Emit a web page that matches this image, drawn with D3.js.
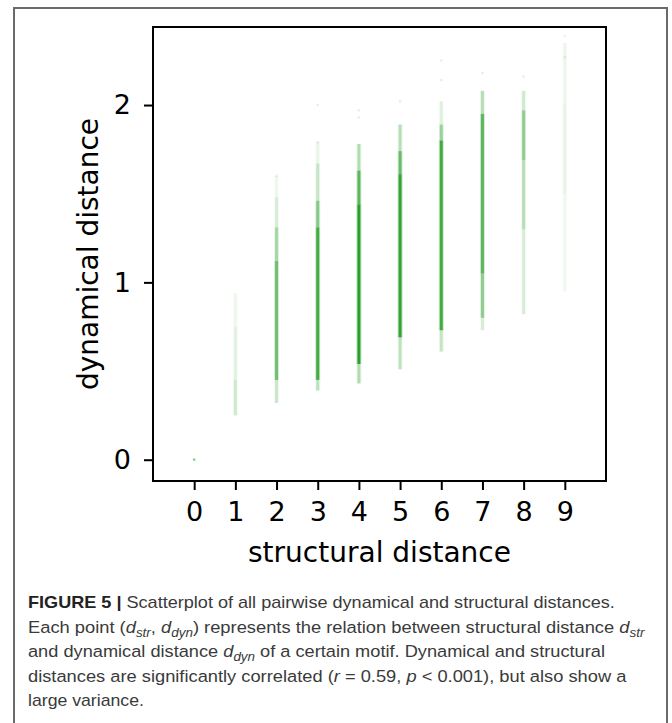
<!DOCTYPE html>
<html>
<head>
<meta charset="utf-8">
<script src="https://cdn.jsdelivr.net/npm/d3@7"></script>
<style>
  body { margin: 0; background: #fff; }
  svg { display: block; }
</style>
</head>
<body>
<div id="scatter"></div>
<script>
// Chart data
var xTicks = [0, 1, 2, 3, 4, 5, 6, 7, 8, 9];
var yTicks = [0, 1, 2];

// density bands along each column: [structural distance, low, high, opacity]
var columnBands = [
  [1, 0.25, 0.45, 0.18], [1, 0.45, 0.75, 0.10], [1, 0.75, 0.94, 0.06],
  [2, 0.32, 0.45, 0.20], [2, 0.45, 1.12, 0.60], [2, 1.12, 1.31, 0.35], [2, 1.31, 1.48, 0.15], [2, 1.48, 1.60, 0.06],
  [3, 0.39, 0.45, 0.25], [3, 0.45, 1.31, 0.85], [3, 1.31, 1.46, 0.50], [3, 1.46, 1.67, 0.22], [3, 1.67, 1.79, 0.08],
  [4, 0.43, 0.54, 0.30], [4, 0.54, 1.44, 1.00], [4, 1.44, 1.63, 0.70], [4, 1.63, 1.78, 0.30],
  [5, 0.51, 0.69, 0.25], [5, 0.69, 1.61, 0.95], [5, 1.61, 1.74, 0.65], [5, 1.74, 1.89, 0.28],
  [6, 0.61, 0.73, 0.22], [6, 0.73, 1.80, 0.85], [6, 1.80, 1.89, 0.40], [6, 1.89, 2.02, 0.12],
  [7, 0.73, 0.80, 0.15], [7, 0.80, 1.05, 0.45], [7, 1.05, 1.95, 0.70], [7, 1.95, 2.08, 0.28],
  [8, 0.82, 1.30, 0.15], [8, 1.30, 1.69, 0.28], [8, 1.69, 1.97, 0.45], [8, 1.97, 2.08, 0.18],
  [9, 0.95, 1.50, 0.06], [9, 1.50, 2.00, 0.09], [9, 2.00, 2.35, 0.07]
];

// isolated points: [structural distance, dynamical distance, opacity]
var loosePoints = [
  [0, 0.00, 0.5],
  [2, 1.60, 0.12], [3, 2.00, 0.12], [3, 1.79, 0.12],
  [4, 1.97, 0.12], [4, 1.93, 0.12], [5, 2.02, 0.12],
  [6, 2.25, 0.12], [6, 2.14, 0.12], [7, 2.18, 0.12],
  [8, 2.16, 0.12], [9, 2.39, 0.1], [9, 2.27, 0.1]
];

var xLabel = "structural distance";
var yLabel = "dynamical distance";

// caption lines, as [text, style] pieces
var captionLines = [
  [["FIGURE 5 | ", "b"], ["Scatterplot of all pairwise dynamical and structural distances.", "n"]],
  [["Each point (", "n"], ["d", "i"], ["str", "sub"], [", ", "n"], ["d", "i"], ["dyn", "sub"],
   [") represents the relation between structural distance ", "n"], ["d", "i"], ["str", "sub"]],
  [["and dynamical distance ", "n"], ["d", "i"], ["dyn", "sub"], [" of a certain motif. Dynamical and structural", "n"]],
  [["distances are significantly correlated (", "n"], ["r", "i"], [" = 0.59, ", "n"], ["p", "i"],
   [" < 0.001), but also show a", "n"]],
  [["large variance.", "n"]]
];

// Define SVG area dimensions
var svgWidth = 672;
var svgHeight = 723;

var plot = { left: 153, right: 606, top: 27, bottom: 481 };

var svg = d3.select("#scatter")
  .append("svg")
  .attr("width", svgWidth)
  .attr("height", svgHeight);

svg.append("rect")
  .attr("width", svgWidth)
  .attr("height", svgHeight)
  .attr("fill", "#fff");

// outer figure frame (open at the bottom of the crop)
svg.append("rect")
  .attr("x", 14)
  .attr("y", 8)
  .attr("width", 653)
  .attr("height", 760)
  .attr("fill", "none")
  .attr("stroke", "#6a6a6a")
  .attr("stroke-width", 2);

// Scales
var xScale = d3.scaleLinear().domain([-1, 10]).range([plot.left, plot.right]);
var yScale = d3.scaleLinear().domain([-0.12, 2.44]).range([plot.bottom, plot.top]);

var green = "#2ca02c";

// Columns of points: wide soft halo plus a narrow core
var bandGroup = svg.append("g");
bandGroup.selectAll("rect.halo")
  .data(columnBands)
  .enter()
  .append("rect")
  .attr("class", "halo")
  .attr("x", d => xScale(d[0]) - 2.5)
  .attr("y", d => yScale(d[2]))
  .attr("width", 5)
  .attr("height", d => yScale(d[1]) - yScale(d[2]))
  .attr("fill", green)
  .attr("fill-opacity", d => d[3] * 0.3);

bandGroup.selectAll("rect.core")
  .data(columnBands)
  .enter()
  .append("rect")
  .attr("class", "core")
  .attr("x", d => xScale(d[0]) - 1.5)
  .attr("y", d => yScale(d[2]))
  .attr("width", 3)
  .attr("height", d => yScale(d[1]) - yScale(d[2]))
  .attr("fill", green)
  .attr("fill-opacity", d => d[3]);

svg.append("g").selectAll("circle")
  .data(loosePoints)
  .enter()
  .append("circle")
  .attr("cx", d => xScale(d[0]))
  .attr("cy", d => yScale(d[1]))
  .attr("r", 1.4)
  .attr("fill", green)
  .attr("fill-opacity", d => d[2]);

// Axes
var bottomAxis = d3.axisBottom(xScale).tickValues(xTicks).tickSize(9).tickPadding(12)
  .tickFormat(d3.format("d"));
var leftAxis = d3.axisLeft(yScale).tickValues(yTicks).tickSize(9).tickPadding(13)
  .tickFormat(d3.format("d"));

var xAxisG = svg.append("g")
  .attr("transform", `translate(0, ${plot.bottom})`)
  .call(bottomAxis);

var yAxisG = svg.append("g")
  .attr("transform", `translate(${plot.left}, 0)`)
  .call(leftAxis);

[xAxisG, yAxisG].forEach(function(g) {
  g.select(".domain").remove();
  g.selectAll(".tick line").attr("stroke", "#000").attr("stroke-width", 2);
  g.selectAll(".tick text")
    .attr("fill", "#000")
    .style("font-family", "DejaVu Sans")
    .style("font-size", "27px");
});

// plot frame
svg.append("rect")
  .attr("x", plot.left)
  .attr("y", plot.top)
  .attr("width", plot.right - plot.left)
  .attr("height", plot.bottom - plot.top)
  .attr("fill", "none")
  .attr("stroke", "#000")
  .attr("stroke-width", 2);

// Axis labels
svg.append("text")
  .attr("x", (plot.left + plot.right) / 2)
  .attr("y", 562)
  .attr("text-anchor", "middle")
  .style("font-family", "DejaVu Sans")
  .style("font-size", "28px")
  .text(xLabel);

svg.append("text")
  .attr("transform", `translate(98, ${(plot.top + plot.bottom) / 2}) rotate(-90)`)
  .attr("text-anchor", "middle")
  .style("font-family", "DejaVu Sans")
  .style("font-size", "28px")
  .text(yLabel);

// Caption
var captionWidths = [587, 617, 577, 599, 116];
var captionTop = 608;
var captionStep = 24.5;

captionLines.forEach(function(line, i) {
  var t = svg.append("text")
    .attr("x", 0)
    .attr("y", 0)
    .attr("fill", "#3a3a3a")
    .style("font-family", "'Liberation Sans Narrow', 'Liberation Sans', Arial, sans-serif")
    .style("font-size", "17px");

  var shifted = false;
  line.forEach(function(piece) {
    var span = t.append("tspan").text(piece[0]);
    if (piece[1] === "b") span.style("font-weight", "bold").attr("fill", "#222");
    if (piece[1] === "i") span.style("font-style", "italic");
    if (piece[1] === "sub") {
      span.style("font-style", "italic").style("font-size", "12.5px");
      if (!shifted) { span.attr("dy", 4); shifted = true; }
    } else if (shifted) {
      span.attr("dy", -4);
      shifted = false;
    }
  });

  var w = t.node().getComputedTextLength();
  var k = captionWidths[i] / w;
  t.attr("transform", `translate(28, ${captionTop + i * captionStep}) scale(${k}, 1)`);
});
</script>
</body>
</html>
